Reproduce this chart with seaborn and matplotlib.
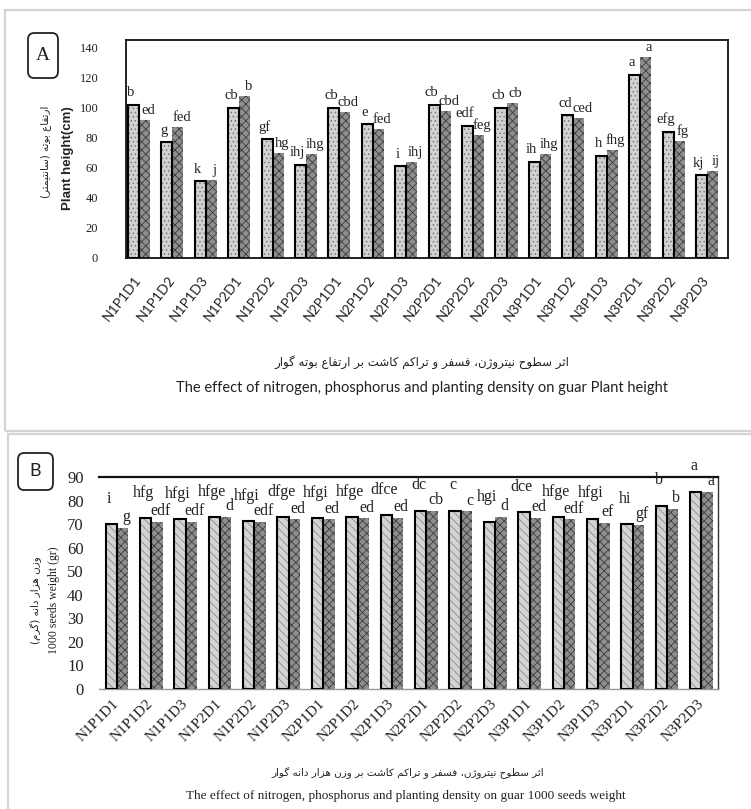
import numpy as np
import pandas as pd
import matplotlib
matplotlib.use("Agg")
import matplotlib.pyplot as plt
import seaborn as sns
from matplotlib.patches import Rectangle, FancyBboxPatch

sns.set_theme(style="white")
plt.rcParams["font.family"] = ["Liberation Serif", "DejaVu Sans"]
plt.rcParams["hatch.linewidth"] = 0.6

# ---------------- data ----------------
treatments = ["N1P1D1", "N1P1D2", "N1P1D3", "N1P2D1", "N1P2D2", "N1P2D3",
              "N2P1D1", "N2P1D2", "N2P1D3", "N2P2D1", "N2P2D2", "N2P2D3",
              "N3P1D1", "N3P1D2", "N3P1D3", "N3P2D1", "N3P2D2", "N3P2D3"]
height_s1 = [102, 77, 51, 100, 79, 62, 100, 89, 61, 102, 88, 100, 64, 95, 68, 122, 84, 55]
height_s2 = [92, 87, 52, 108, 70, 69, 97, 86, 64, 98, 82, 103, 69, 93, 72, 134, 78, 58]
letters_height_s1 = ["b", "g", "k", "cb", "gf", "ihj", "cb", "e", "i",
                     "cb", "edf", "cb", "ih", "cd", "h", "a", "efg", "kj"]
letters_height_s2 = ["ed", "fed", "j", "b", "hg", "ihg", "cbd", "fed", "ihj",
                     "cbd", "feg", "cb", "ihg", "ced", "fhg", "a", "fg", "ij"]
weight_s1 = [70, 72.5, 72, 73, 71.3, 73, 72.4, 73, 73.7,
             75.7, 75.7, 70.8, 75, 73, 72.3, 70, 77.8, 83.7]
weight_s2 = [68.3, 71, 71, 73, 70.8, 72, 72, 72.4, 72.8,
             75.7, 75.4, 73, 72.6, 72, 70.6, 69.8, 76.5, 83.7]
letters_weight_s1 = ["i", "hfg", "hfgi", "hfge", "hfgi", "dfge", "hfgi", "hfge", "dfce",
                     "dc", "c", "hgi", "dce", "hfge", "hfgi", "hi", "b", "a"]
letters_weight_s2 = ["g", "edf", "edf", "d", "edf", "ed", "ed", "ed", "ed",
                     "cb", "c", "d", "ed", "edf", "ef", "gf", "b", "a"]
height_ticks = [0, 20, 40, 60, 80, 100, 120, 140]
weight_ticks = [0, 10, 20, 30, 40, 50, 60, 70, 80, 90]

cap_A_en = "The effect of nitrogen, phosphorus and planting density on guar Plant height"
cap_B_en = "The effect of nitrogen, phosphorus and planting density on guar 1000 seeds weight"
cap_A_fa = "اثر سطوح نیتروژن، فسفر و تراکم کاشت بر ارتفاع بوته گوار"
cap_B_fa = "اثر سطوح نیتروژن، فسفر و تراکم کاشت بر وزن هزار دانه گوار"
ylab_A_en = "Plant height(cm)"
ylab_A_fa = "ارتفاع بوته (سانتیمتر)"
ylab_B_en = "1000 seeds weight (gr)"
ylab_B_fa = "وزن هزار دانه (گرم)"

# ------------- minimal Persian shaping (presentation forms + visual order) -------------
FORMS = {
    "ا": ("\uFE8D", "\uFE8E", None, None),
    "ب": ("\uFE8F", "\uFE90", "\uFE91", "\uFE92"),
    "ت": ("\uFE95", "\uFE96", "\uFE97", "\uFE98"),
    "ث": ("\uFE99", "\uFE9A", "\uFE9B", "\uFE9C"),
    "ح": ("\uFEA1", "\uFEA2", "\uFEA3", "\uFEA4"),
    "د": ("\uFEA9", "\uFEAA", None, None),
    "ر": ("\uFEAD", "\uFEAE", None, None),
    "ز": ("\uFEAF", "\uFEB0", None, None),
    "ژ": ("\uFB8A", "\uFB8B", None, None),
    "س": ("\uFEB1", "\uFEB2", "\uFEB3", "\uFEB4"),
    "ش": ("\uFEB5", "\uFEB6", "\uFEB7", "\uFEB8"),
    "ط": ("\uFEC1", "\uFEC2", "\uFEC3", "\uFEC4"),
    "ع": ("\uFEC9", "\uFECA", "\uFECB", "\uFECC"),
    "ف": ("\uFED1", "\uFED2", "\uFED3", "\uFED4"),
    "ک": ("\uFB8E", "\uFB8F", "\uFB90", "\uFB91"),
    "گ": ("\uFB92", "\uFB93", "\uFB94", "\uFB95"),
    "م": ("\uFEE1", "\uFEE2", "\uFEE3", "\uFEE4"),
    "ن": ("\uFEE5", "\uFEE6", "\uFEE7", "\uFEE8"),
    "ه": ("\uFEE9", "\uFEEA", "\uFEEB", "\uFEEC"),
    "و": ("\uFEED", "\uFEEE", None, None),
    "ی": ("\uFBFC", "\uFBFD", "\uFBFE", "\uFBFF"),
}


def shape_fa(s):
    out = []
    n = len(s)
    for i, c in enumerate(s):
        if c not in FORMS:
            out.append(c)
            continue
        iso, fin, ini, med = FORMS[c]
        prev = s[i - 1] if i > 0 else None
        nxt = s[i + 1] if i < n - 1 else None
        jp = prev in FORMS and FORMS[prev][2] is not None
        jn = ini is not None and nxt in FORMS
        if jp and jn:
            out.append(med)
        elif jp:
            out.append(fin)
        elif jn:
            out.append(ini)
        else:
            out.append(iso)
    vis = "".join(reversed(out))
    return vis.translate(str.maketrans({"(": ")", ")": "("}))


# ---------------- figure ----------------
W, H = 751, 809
fig = plt.figure(figsize=(W / 100, H / 100), dpi=100)
fig.patch.set_facecolor("white")


def fx(x):
    return x / W


def fy(y):
    return 1 - y / H


# panel frames
fig.add_artist(Rectangle((fx(5), fy(431)), fx(800) - fx(5), fy(10) - fy(431),
                         transform=fig.transFigure, fill=False, ec="#d4d4d4", lw=1.6))
fig.add_artist(Rectangle((fx(8), fy(840)), fx(800) - fx(8), fy(434) - fy(840),
                         transform=fig.transFigure, fill=False, ec="#d4d4d4", lw=1.6))

# panel letters
for (x0, y0, x1, y1, t, fam, fs) in [(28, 33, 58, 78, "A", "Liberation Serif", 14),
                                       (18, 453, 53, 490, "B", "Lato", 13)]:
    fig.add_artist(FancyBboxPatch((fx(x0), fy(y1)), fx(x1) - fx(x0), fy(y0) - fy(y1),
                                  boxstyle="round,pad=0,rounding_size=0.008",
                                  transform=fig.transFigure, fill=False, ec="#222222", lw=1.3))
    fig.text(fx((x0 + x1) / 2), fy((y0 + y1) / 2), t, ha="center", va="center",
             fontsize=fs, family=fam, color="#222222")


def style_bars(ax, cont1, cont2, hatch1, face1, hcol1):
    for p in cont1.patches:
        p.set_facecolor(face1)
        p.set_hatch(hatch1)
        p.set_edgecolor(hcol1)
        p.set_linewidth(0)
        ax.add_patch(Rectangle(p.get_xy(), p.get_width(), p.get_height(),
                               fill=False, ec="black", lw=1.5, zorder=3))
    for p in cont2.patches:
        p.set_facecolor("#8e8e8e")
        p.set_hatch("xxxx")
        p.set_edgecolor("#3c3c3c")
        p.set_linewidth(0)


def label_bars(ax, cont, labels, dx, dy, fs):
    for p, lab in zip(cont.patches, labels):
        ax.annotate(lab, (p.get_x() + p.get_width() / 2, p.get_height()),
                    xytext=(dx, dy), textcoords="offset points",
                    ha="center", va="bottom", fontsize=fs,
                    family="Liberation Serif", color="#222222", zorder=4)


def draw_panel(rect, s1, s2, l1, l2, ylim, ticks, xlim, hatch1, face1, hcol1,
               lab_fs, off1, off2, ytick_fs, ytick_pad, xrot, xfam, xfs, xpad):
    ax = fig.add_axes(rect)
    df = pd.DataFrame({
        "treatment": treatments * 2,
        "value": list(s1) + list(s2),
        "series": ["s1"] * len(treatments) + ["s2"] * len(treatments),
    })
    sns.barplot(data=df, x="treatment", y="value", hue="series", order=treatments,
                hue_order=["s1", "s2"], palette=["#cfcfcf", "#8e8e8e"], saturation=1,
                width=0.66, errorbar=None, legend=False, ax=ax)
    c1, c2 = ax.containers[0], ax.containers[1]
    style_bars(ax, c1, c2, hatch1, face1, hcol1)
    label_bars(ax, c1, l1, off1[0], off1[1], lab_fs)
    label_bars(ax, c2, l2, off2[0], off2[1], lab_fs)
    ax.set_ylim(*ylim)
    ax.set_xlim(*xlim)
    ax.set_yticks(ticks)
    ax.set_yticklabels([str(t) for t in ticks], fontsize=ytick_fs,
                       family="Liberation Serif", color="#222222")
    ax.tick_params(axis="y", length=0, pad=ytick_pad)
    ax.tick_params(axis="x", length=0, pad=xpad)
    ax.set_xticks(range(len(treatments)))
    ax.set_xticklabels(treatments, rotation=xrot, ha="right", va="center",
                       rotation_mode="anchor", family=xfam, fontsize=xfs, color="#222222")
    ax.set_xlabel("")
    ax.set_ylabel("")
    ax.set_facecolor("white")
    return ax


# Panel A
axA = draw_panel([fx(126), fy(258), fx(728) - fx(126), fy(40) - fy(258)],
                 height_s1, height_s2, letters_height_s1, letters_height_s2,
                 (0, 145), height_ticks, (-0.39, 17.63),
                 "....", "#d2d2d2", "#7a7a7a",
                 10.5, (-2, 4), (2.5, 2), 9, 20, 52, "Lato", 10, 14)
for sp in axA.spines.values():
    sp.set_visible(True)
    sp.set_color("#111111")
    sp.set_linewidth(1.3)

# Panel B
axB = draw_panel([fx(99), fy(689), fx(718) - fx(99), fy(477) - fy(689)],
                 weight_s1, weight_s2, letters_weight_s1, letters_weight_s2,
                 (0, 90), weight_ticks, (-0.52, 17.48),
                 "\\\\\\\\", "#d4d4d4", "#8a8a8a",
                 11.5, (-1.5, 12.5), (2.5, 2), 12, 11, 45, "Liberation Serif", 11, 9)
axB.spines["left"].set_visible(False)
axB.spines["top"].set_visible(True)
axB.spines["top"].set_color("#111111")
axB.spines["top"].set_linewidth(1.6)
axB.spines["right"].set_visible(True)
axB.spines["right"].set_color("#333333")
axB.spines["right"].set_linewidth(1.0)
axB.spines["bottom"].set_visible(True)
axB.spines["bottom"].set_color("#999999")
axB.spines["bottom"].set_linewidth(1.0)

# axis titles
fig.text(fx(68), fy(158), ylab_A_en, rotation=90, ha="center", va="center",
         family="Liberation Sans", fontsize=9.5, weight="bold", color="#222222")
fig.text(fx(46), fy(152), shape_fa(ylab_A_fa), rotation=90, ha="center", va="center",
         family="DejaVu Sans", fontsize=7.5, color="#222222")
fig.text(fx(54), fy(600), ylab_B_en, rotation=90, ha="center", va="center",
         family="Liberation Serif", fontsize=8.5, color="#222222")
fig.text(fx(36), fy(600), shape_fa(ylab_B_fa), rotation=90, ha="center", va="center",
         family="DejaVu Sans", fontsize=7.5, color="#222222")

# captions
fig.text(fx(422), fy(362), shape_fa(cap_A_fa), ha="center", va="center",
         family="DejaVu Sans", fontsize=8.5, color="#222222")
fig.text(fx(422), fy(388), cap_A_en, ha="center", va="center",
         family="Lato", fontsize=10.5, color="#222222")
fig.text(fx(408), fy(773), shape_fa(cap_B_fa), ha="center", va="center",
         family="DejaVu Sans", fontsize=7.5, color="#222222")
fig.text(fx(406), fy(796), cap_B_en, ha="center", va="center",
         family="Liberation Serif", fontsize=9.5, color="#222222")

fig.savefig("out.png", dpi=100, facecolor="white")
